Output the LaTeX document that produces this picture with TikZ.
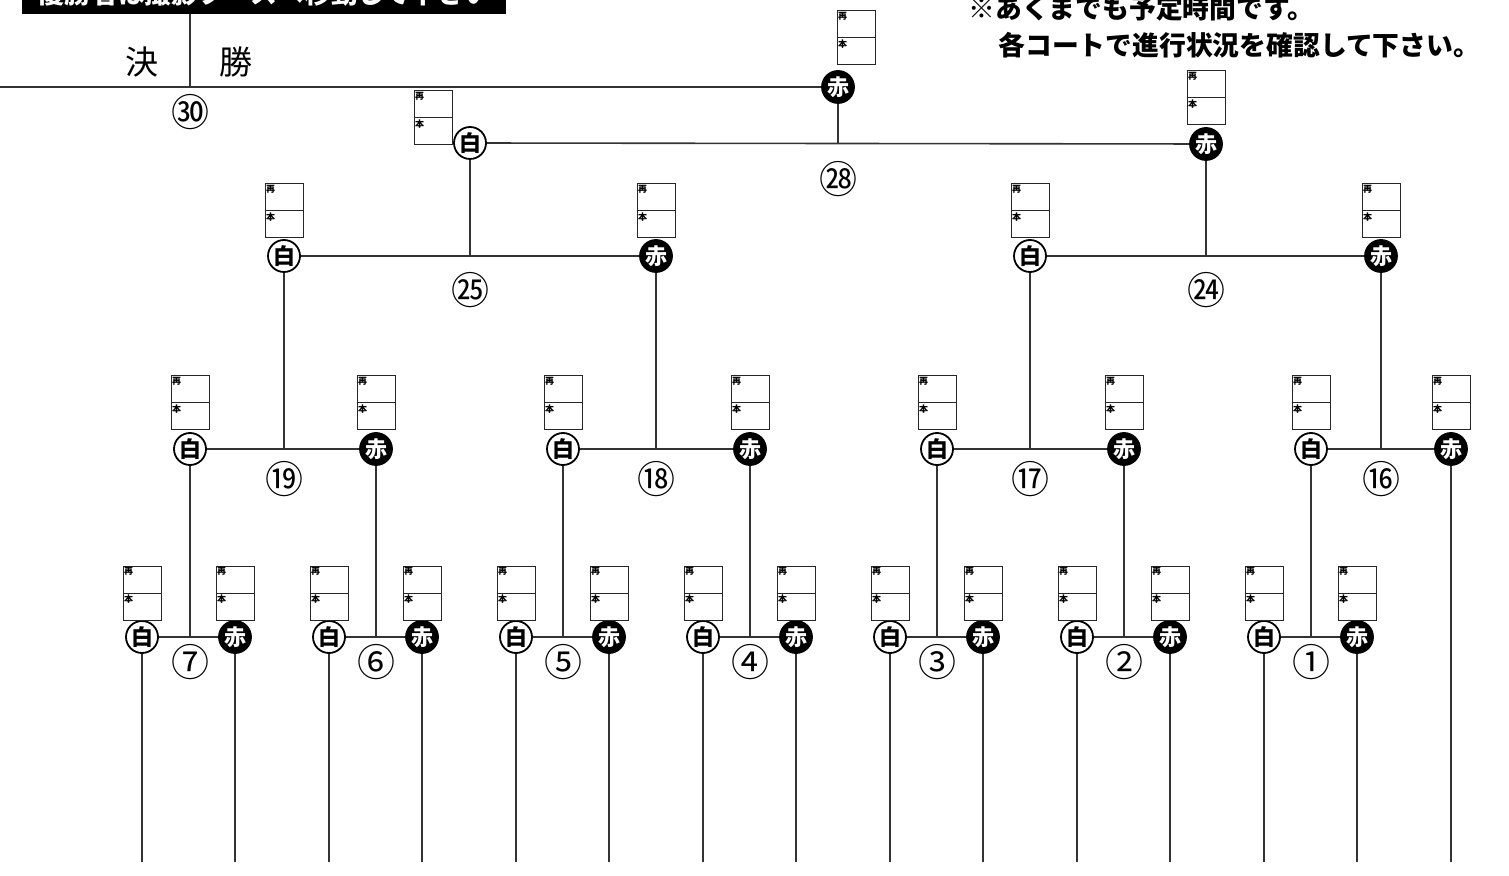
\documentclass[tikz,border=0pt]{standalone}
\usepackage{fontspec}
\newfontfamily\cjk{Noto Sans CJK JP}
\tikzset{
  ln/.style={draw=black!80, line width=0.8pt},
  wc/.style={circle, draw=black, line width=0.9pt, fill=white, text=black, minimum size=16pt, inner sep=0pt, font=\cjk\bfseries\fontsize{11}{11}\selectfont},
  rc/.style={circle, draw=black, line width=0.9pt, fill=black, text=white, minimum size=16pt, inner sep=0pt, font=\cjk\bfseries\fontsize{11}{11}\selectfont},
  scb/.style={draw=black!85, line width=0.5pt, minimum width=19pt, minimum height=27pt, inner sep=0pt},
  sclab/.style={inner sep=0.6pt, anchor=north west, font=\cjk\bfseries\fontsize{4.5}{4.5}\selectfont},
  num/.style={inner sep=0pt, font=\cjk\fontsize{19}{19}\selectfont},
  big/.style={inner sep=0pt, font=\cjk\fontsize{16.5}{16.5}\selectfont},
  note/.style={inner sep=0pt, anchor=west, font=\cjk\bfseries\fontsize{13.4}{13.4}\selectfont}
}
\newcommand\scorebox[3]{%
  \node[scb] (#1) at (#2,#3) {};
  \draw[line width=0.5pt, draw=black!85] (#1.west) -- (#1.east);
  \node[sclab] (#1a) at (#1.north west) {再};
  \node[sclab] (#1b) at (#1.west) {本};
}
\begin{document}
\begin{tikzpicture}[x=0.5pt,y=-0.5pt]
\useasboundingbox (0,0) rectangle (1509,876);
\fill[white] (0,0) rectangle (1509,876);

% banner
\node[fill=black, text=white, anchor=south west, minimum width=242pt, minimum height=20pt, inner sep=0pt,
      font=\cjk\bfseries\fontsize{13.4}{13.4}\selectfont] (banner) at (22,14) {優勝者は撮影ブースへ移動して下さい};

% notes
\node[note] (note1) at (968,8) {※あくまでも予定時間です。};
\node[note] (note2) at (998,45) {各コートで進行状況を確認して下さい。};

% final
\node[big] (ke) at (142,62) {決};
\node[big] (sho) at (236,62) {勝};
\node[num] (n30) at (190,112) {㉚};
\node[rc] (rtop) at (838,87) {赤};
\scorebox{btop}{856}{38}
\coordinate (lstart) at (0,87);
\coordinate (vtop) at (190,14);
\coordinate (vbot) at (190,87);
\draw[ln] (lstart) -- (rtop);
\draw[ln] (vtop) -- (vbot);

% round 4 (match 28)
\node[wc] (w28) at (470,143) {白};
\node[rc] (r28) at (1206,144) {赤};
\scorebox{bw28}{433}{118}
\scorebox{br28}{1206}{98}
\coordinate (j28) at (838,143.5);
\node[num] (n28) at (838,179) {㉘};
\draw[ln] (w28) -- (r28);
\draw[ln] (j28) -- (rtop);

% round 3
\foreach \n/\wx/\rx/\jx/\c/\p in {25/284/656/470/㉕/w28, 24/1030/1381/1206/㉔/r28} {
  \node[wc] (w\n) at (\wx,256) {白};
  \node[rc] (r\n) at (\rx,256) {赤};
  \scorebox{bw\n}{\wx}{211}
  \scorebox{br\n}{\rx}{211}
  \coordinate (j\n) at (\jx,256);
  \node[num] (n\n) at (\jx,290) {\c};
  \draw[ln] (w\n) -- (r\n);
  \draw[ln] (j\n) -- (\p);
}

% round 2
\foreach \n/\wx/\rx/\jx/\c/\p in {19/190/376/284/⑲/w25, 18/563/750/656/⑱/r25, 17/937/1124/1030/⑰/w24, 16/1311/1451/1381/⑯/r24} {
  \node[wc] (w\n) at (\wx,449) {白};
  \node[rc] (r\n) at (\rx,449) {赤};
  \scorebox{bw\n}{\wx}{403}
  \scorebox{br\n}{\rx}{403}
  \coordinate (j\n) at (\jx,449);
  \node[num] (n\n) at (\jx,479) {\c};
  \draw[ln] (w\n) -- (r\n);
  \draw[ln] (j\n) -- (\p);
}
\coordinate (e16) at (1451,862);
\draw[ln] (r16) -- (e16);

% round 1
\foreach \n/\wx/\rx/\jx/\c/\p in {7/142/235/190/⑦/w19, 6/329/422/376/⑥/r19, 5/516/609/563/⑤/w18, 4/703/796/750/④/r18, 3/890/983/937/③/w17, 2/1077/1170/1124/②/r17, 1/1264/1357/1311/①/w16} {
  \node[wc] (w\n) at (\wx,637) {白};
  \node[rc] (r\n) at (\rx,637) {赤};
  \scorebox{bw\n}{\wx}{593}
  \scorebox{br\n}{\rx}{593}
  \coordinate (j\n) at (\jx,637);
  \node[num] (n\n) at (\jx,662) {\c};
  \coordinate (ew\n) at (\wx,862);
  \coordinate (er\n) at (\rx,862);
  \draw[ln] (w\n) -- (r\n);
  \draw[ln] (j\n) -- (\p);
  \draw[ln] (w\n) -- (ew\n);
  \draw[ln] (r\n) -- (er\n);
}
\end{tikzpicture}
\end{document}
